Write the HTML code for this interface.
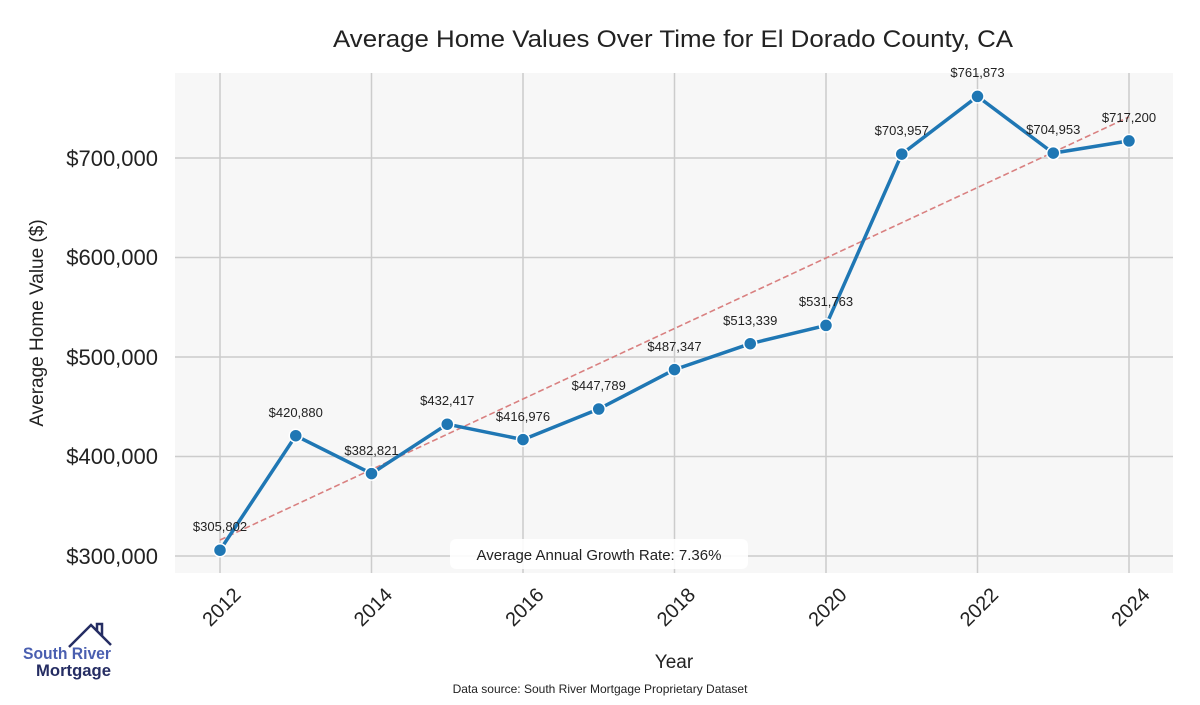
<!DOCTYPE html>
<html><head><meta charset="utf-8"><style>
body{margin:0;background:#fff;width:1200px;height:700px;overflow:hidden;font-family:"Liberation Sans",sans-serif}
</style></head><body>
<svg width="1200" height="700" xmlns="http://www.w3.org/2000/svg" font-family="Liberation Sans, sans-serif">
<rect x="175" y="73" width="998" height="500" fill="#f7f7f7"/>
<g stroke="#cccccc" stroke-width="1.5">
<line x1="175" x2="1173" y1="556" y2="556"/><line x1="175" x2="1173" y1="456.5" y2="456.5"/>
<line x1="175" x2="1173" y1="357" y2="357"/><line x1="175" x2="1173" y1="257.5" y2="257.5"/>
<line x1="175" x2="1173" y1="158" y2="158"/>
<line x1="220" x2="220" y1="73" y2="573"/><line x1="371.5" x2="371.5" y1="73" y2="573"/>
<line x1="523" x2="523" y1="73" y2="573"/><line x1="674.5" x2="674.5" y1="73" y2="573"/>
<line x1="826" x2="826" y1="73" y2="573"/><line x1="977.5" x2="977.5" y1="73" y2="573"/>
<line x1="1129" x2="1129" y1="73" y2="573"/>
</g>
<text x="333" y="47" font-size="24" textLength="680" lengthAdjust="spacingAndGlyphs" fill="#222">Average Home Values Over Time for El Dorado County, CA</text>
<g font-size="22" fill="#222" text-anchor="end">
<text x="158" y="564">$300,000</text><text x="158" y="464">$400,000</text>
<text x="158" y="365">$500,000</text><text x="158" y="265">$600,000</text>
<text x="158" y="166">$700,000</text>
</g>
<text transform="translate(43,323) rotate(-90)" font-size="19" text-anchor="middle" fill="#222">Average Home Value ($)</text>
<g font-size="20" fill="#222" text-anchor="end">
<text transform="translate(242,596) rotate(-45)">2012</text>
<text transform="translate(393.5,596) rotate(-45)">2014</text>
<text transform="translate(545,596) rotate(-45)">2016</text>
<text transform="translate(696.5,596) rotate(-45)">2018</text>
<text transform="translate(848,596) rotate(-45)">2020</text>
<text transform="translate(999.5,596) rotate(-45)">2022</text>
<text transform="translate(1151,596) rotate(-45)">2024</text>
</g>
<text x="674" y="668" font-size="19" text-anchor="middle" fill="#222">Year</text>
<text x="600" y="693" font-size="12" text-anchor="middle" fill="#222">Data source: South River Mortgage Proprietary Dataset</text>
<line x1="220" y1="540" x2="1129" y2="117" stroke="#d98080" stroke-width="1.6" stroke-dasharray="6,3"/>
<polyline fill="none" stroke="#1f77b4" stroke-width="3.5" stroke-linejoin="round" points="220,550.2 295.75,435.7 371.5,473.6 447.25,424.2 523,439.6 598.75,409 674.5,369.6 750.25,343.7 826,325.4 901.75,154.1 977.5,96.4 1053.25,153.1 1129,140.9"/>
<g fill="#1f77b4" stroke="#fff" stroke-width="1.5">
<circle cx="220" cy="550.2" r="6.5"/><circle cx="295.75" cy="435.7" r="6.5"/><circle cx="371.5" cy="473.6" r="6.5"/>
<circle cx="447.25" cy="424.2" r="6.5"/><circle cx="523" cy="439.6" r="6.5"/><circle cx="598.75" cy="409" r="6.5"/>
<circle cx="674.5" cy="369.6" r="6.5"/><circle cx="750.25" cy="343.7" r="6.5"/><circle cx="826" cy="325.4" r="6.5"/>
<circle cx="901.75" cy="154.1" r="6.5"/><circle cx="977.5" cy="96.4" r="6.5"/><circle cx="1053.25" cy="153.1" r="6.5"/>
<circle cx="1129" cy="140.9" r="6.5"/>
</g>
<g font-size="13" fill="#222" text-anchor="middle">
<text x="220" y="531">$305,802</text><text x="295.75" y="417">$420,880</text><text x="371.5" y="455">$382,821</text>
<text x="447.25" y="405">$432,417</text><text x="523" y="421">$416,976</text><text x="598.75" y="390">$447,789</text>
<text x="674.5" y="351">$487,347</text><text x="750.25" y="325">$513,339</text><text x="826" y="306">$531,763</text>
<text x="901.75" y="135">$703,957</text><text x="977.5" y="77">$761,873</text><text x="1053.25" y="134">$704,953</text>
<text x="1129" y="122">$717,200</text>
</g>
<rect x="450" y="539" width="298" height="30" rx="6" fill="#fff" opacity="0.9"/>
<text x="599" y="560" font-size="15" text-anchor="middle" fill="#222">Average Annual Growth Rate: 7.36%</text>
<polyline points="69,647 91,625 111,645" fill="none" stroke="#252d63" stroke-width="2.5"/>
<polyline points="97,631 97,624 102,624 102,636" fill="none" stroke="#252d63" stroke-width="2.5"/>
<text x="23" y="659" font-size="17" font-weight="bold" fill="#4a5fb0" textLength="88" lengthAdjust="spacingAndGlyphs">South River</text>
<text x="36" y="676" font-size="17" font-weight="bold" fill="#252d63" textLength="75" lengthAdjust="spacingAndGlyphs">Mortgage</text>
</svg>
</body></html>
